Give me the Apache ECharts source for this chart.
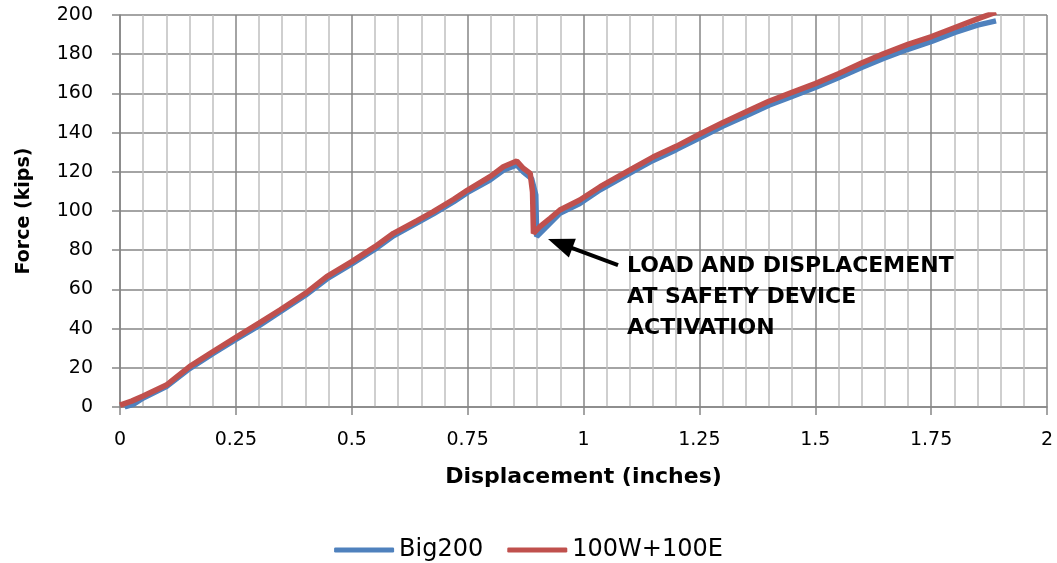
<!DOCTYPE html>
<html>
<head>
<meta charset="utf-8">
<script src="https://cdn.jsdelivr.net/npm/echarts@6/dist/echarts.min.js"></script>
<style>html,body{margin:0;padding:0;background:#fff;}#c{width:1057px;height:563px;}</style>
</head>
<body>
<div id="c"></div>
<script>
// Series names
const seriesNames = ['Big200', '100W+100E'];
// Big200 (blue): [displacement (in), force (kips)]
const big200 = [
  [0.01,0],[0.03,1.5],[0.05,4.6],[0.10,10.4],[0.15,19.6],[0.20,27.2],[0.25,34.5],
  [0.30,41.5],[0.345,48.5],[0.40,57],[0.446,65.3],[0.50,73],[0.55,80.5],[0.59,87.3],
  [0.64,93.8],[0.676,98.5],[0.72,104.8],[0.75,109.5],[0.798,115.8],[0.827,120.8],
  [0.856,123.5],[0.870,120],[0.888,116.5],[0.897,108.2],[0.899,87],[0.913,90.3],
  [0.949,98.8],[0.992,103.8],[1.036,110.8],[1.107,120.2],[1.15,125.8],[1.20,131.3],
  [1.251,137.3],[1.30,143.2],[1.359,149.5],[1.40,154],[1.45,158.5],[1.50,163],
  [1.55,168],[1.60,173.2],[1.647,177.8],[1.70,182.5],[1.751,186.5],[1.80,191],
  [1.85,194.8],[1.89,197]
];
// 100W+100E (red)
const w100e100 = [
  [0.0,1],[0.025,3],[0.05,5.6],[0.10,11.2],[0.15,20.6],[0.20,28.2],[0.25,35.5],
  [0.30,42.8],[0.345,49.5],[0.40,58],[0.446,66.5],[0.50,74.2],[0.55,81.8],[0.59,88.6],
  [0.64,95],[0.676,99.7],[0.72,106],[0.75,110.7],[0.80,117.8],[0.827,122.6],
  [0.856,125.5],[0.870,121.8],[0.885,119.2],[0.890,109.8],[0.892,88.6],[0.906,92],
  [0.928,96.3],[0.949,100.5],[0.992,105.6],[1.036,112.4],[1.107,121.8],[1.15,127.5],
  [1.20,133],[1.251,139.3],[1.30,145],[1.359,151.5],[1.40,156],[1.45,160.5],[1.50,165],
  [1.55,170],[1.60,175.5],[1.647,180.2],[1.70,185],[1.751,189],[1.80,193.5],
  [1.85,198],[1.89,201.5]
];
// Annotation
const annotationText = 'LOAD AND DISPLACEMENT\nAT SAFETY DEVICE\nACTIVATION';
const annotationAt = [1.094, 79.6];
const arrowFrom = [1.0745, 72.4];
const arrowHeadCenter = [0.9497, 83.4];
// Axis titles
const xTitle = 'Displacement (inches)';
const yTitle = 'Force (kips)';

const chart = echarts.init(document.getElementById('c'), null, {renderer: 'canvas'});
const FONT = 'DejaVu Sans';
const MAJOR = '#868686', MINOR = '#c0c0c0';
chart.setOption({
  animation: false,
  textStyle: {fontFamily: FONT},
  grid: {left: 120, right: 10, top: 15, bottom: 156, containLabel: false},
  legend: {
    data: seriesNames, left: 'center', top: 533, icon: 'roundRect',
    itemWidth: 60, itemHeight: 5, itemGap: 24,
    textStyle: {fontSize: 24, color: '#000', fontFamily: FONT}
  },
  xAxis: {
    type: 'value', min: 0, max: 2, interval: 0.25,
    name: xTitle, nameLocation: 'middle', nameGap: 59,
    nameTextStyle: {fontSize: 22, fontWeight: 'bold', color: '#000', fontFamily: FONT},
    axisLine: {show: true, lineStyle: {color: MAJOR, width: 1.5}},
    axisTick: {show: true, length: 8, lineStyle: {color: MAJOR, width: 1.5}},
    axisLabel: {fontSize: 19, color: '#000', margin: 24, fontFamily: FONT},
    splitLine: {show: true, lineStyle: {color: MAJOR, width: 1.5}},
    minorTick: {show: false, splitNumber: 5},
    minorSplitLine: {show: true, lineStyle: {color: MINOR, width: 1.5}}
  },
  yAxis: {
    type: 'value', min: 0, max: 200, interval: 20,
    name: yTitle, nameLocation: 'middle', nameGap: 86,
    nameTextStyle: {fontSize: 19, fontWeight: 'bold', color: '#000', fontFamily: FONT},
    axisLine: {show: true, lineStyle: {color: MAJOR, width: 1.5}},
    axisTick: {show: true, length: 8, lineStyle: {color: MAJOR, width: 1.5}},
    axisLabel: {fontSize: 19, color: '#000', margin: 27, fontFamily: FONT},
    splitLine: {show: true, lineStyle: {color: MAJOR, width: 1.5}}
  },
  series: [
    {
      name: seriesNames[0], type: 'line', data: big200, symbol: 'none', showSymbol: false,
      lineStyle: {color: '#4F81BD', width: 5.5}, itemStyle: {color: '#4F81BD'}, z: 2
    },
    {
      name: seriesNames[1], type: 'line', data: w100e100, symbol: 'none', showSymbol: false,
      lineStyle: {color: '#C0504D', width: 5.5}, itemStyle: {color: '#C0504D'}, z: 3,
      markLine: {
        silent: true, animation: false, symbolSize: [20, 26],
        label: {show: false},
        lineStyle: {color: '#000', width: 4, type: 'solid'},
        itemStyle: {color: '#000'},
        emphasis: {disabled: true},
        data: [[{coord: arrowFrom, symbol: 'none'}, {coord: arrowHeadCenter, symbol: 'triangle'}]]
      },
      markPoint: {
        silent: true, symbol: 'circle', symbolSize: 0,
        itemStyle: {color: 'transparent'},
        label: {
          show: true, position: [0, 0], align: 'left', verticalAlign: 'top',
          formatter: annotationText, fontSize: 22, fontWeight: 'bold', lineHeight: 31,
          color: '#000', fontFamily: FONT
        },
        data: [{coord: annotationAt}]
      }
    }
  ]
});
</script>
</body>
</html>
